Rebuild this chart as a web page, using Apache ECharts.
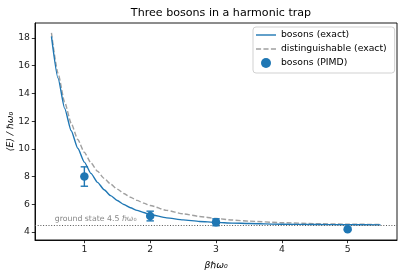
<!DOCTYPE html>
<html>
<head>
<meta charset="utf-8">
<script src="https://cdn.jsdelivr.net/npm/echarts@6/dist/echarts.min.js"></script>
<style>html,body{margin:0;padding:0;background:#fff}#c{width:400px;height:280px}</style>
</head>
<body>
<div id="c"></div>
<script>
// beta * hbar * omega0 sample positions for the exact curves
var betaGrid = [0.5,0.6,0.7,0.8,0.9,1.0,1.1,1.2,1.3,1.4,1.5,1.6,1.7,1.8,1.9,2.0,2.25,2.5,2.75,3.0,3.25,3.5,4.0,4.5,5.0,5.5];
// <E>/hbar omega0, bosons (exact)
var bosonExact = [18.12,15.10,12.93,11.30,10.04,9.04,8.23,7.58,7.05,6.62,6.27,5.98,5.75,5.56,5.40,5.26,5.02,4.87,4.76,4.69,4.64,4.61,4.56,4.54,4.52,4.51];
// <E>/hbar omega0, distinguishable (exact)
var distExact = [18.37,15.45,13.38,11.84,10.67,9.74,8.99,8.38,7.87,7.45,7.09,6.78,6.51,6.28,6.08,5.91,5.56,5.31,5.12,4.97,4.86,4.78,4.67,4.60,4.56,4.54];
// PIMD points
var pimdBeta = [1, 2, 3, 5];
var pimdE = [8.0, 5.15, 4.7, 4.2];
var pimdErr = [0.7, 0.35, 0.25, 0.1];
var groundState = 4.5;
var xTicks = [1, 2, 3, 4, 5];
var yTicks = [4, 6, 8, 10, 12, 14, 16, 18];

var FONT = 'DejaVu Sans';
var BLUE = '#1f77b4';

function zip(a, b) { return a.map(function (v, i) { return [v, b[i]]; }); }

var chart = echarts.init(document.getElementById('c'), null, {renderer: 'canvas'});
chart.setOption({
  animation: false,
  backgroundColor: '#fff',
  title: {
    text: 'Three bosons in a harmonic trap',
    left: 216, top: 3, textAlign: 'center',
    textStyle: {fontFamily: FONT, fontSize: 11.1, fontWeight: 'normal', color: '#000'}
  },
  grid: {left: 35, right: 3, top: 23, bottom: 40, containLabel: false, outerBoundsMode: 'none',
         show: true, borderColor: '#000', borderWidth: 0.9, backgroundColor: 'transparent'},
  legend: {
    orient: 'vertical', left: 253, top: 27,
    padding: [3, 8, 5, 3],
    backgroundColor: 'rgba(255,255,255,0.8)', borderColor: '#cccccc', borderWidth: 0.9, borderRadius: 3,
    itemWidth: 20, itemHeight: 10, itemGap: 4,
    textStyle: {fontFamily: FONT, fontSize: 9.26, color: '#000', lineHeight: 10},
    data: [
      {name: 'bosons (exact)', icon: 'path://M0,0H20V1.4H0Z'},
      {name: 'distinguishable (exact)', icon: 'path://M0,0H5V1.4H0ZM7.3,0H12.3V1.4H7.3ZM14.6,0H19.6V1.4H14.6Z'},
      {name: 'bosons (PIMD)', icon: 'circle'}
    ]
  },
  xAxis: {
    type: 'value', min: 0.25, max: 5.75,
    name: 'βℏω₀', nameLocation: 'middle', nameGap: 21,
    nameTextStyle: {fontFamily: FONT, fontSize: 9.26, fontStyle: 'italic', color: '#000'},
    axisLine: {show: true, onZero: false, lineStyle: {color: '#000', width: 0.9}},
    axisTick: {show: true, length: 3.2, customValues: xTicks, lineStyle: {color: '#000', width: 0.8}},
    axisLabel: {customValues: xTicks, margin: 5, fontFamily: FONT, fontSize: 9.26, color: '#222'},
    splitLine: {show: false}
  },
  yAxis: {
    type: 'value', min: 3.42, max: 19.08,
    name: '⟨E⟩ / ℏω₀', nameLocation: 'middle', nameGap: 20, nameRotate: 90, nameMoveOverlap: false,
    nameTextStyle: {fontFamily: FONT, fontSize: 9.26, fontStyle: 'italic', color: '#000'},
    axisLine: {show: true, onZero: false, lineStyle: {color: '#000', width: 0.9}},
    axisTick: {show: true, length: 3.2, customValues: yTicks, lineStyle: {color: '#000', width: 0.8}},
    axisLabel: {customValues: yTicks, margin: 5, fontFamily: FONT, fontSize: 9.26, color: '#222'},
    splitLine: {show: false}
  },
  series: [
    {
      name: 'distinguishable (exact)', type: 'line', data: zip(betaGrid, distExact),
      symbol: 'none', showSymbol: false, smooth: 0.2, smoothMonotone: 'x', z: 2,
      lineStyle: {color: '#a0a0a0', width: 1.4, type: [5, 2.3]},
      itemStyle: {color: '#a0a0a0'}
    },
    {
      name: 'bosons (exact)', type: 'line', data: zip(betaGrid, bosonExact),
      symbol: 'none', showSymbol: false, smooth: 0.2, smoothMonotone: 'x', z: 3,
      lineStyle: {color: BLUE, width: 1.4},
      itemStyle: {color: BLUE}
    },
    {
      name: 'ground', type: 'scatter', data: [[0.55, groundState]], symbolSize: 0, z: 1,
      silent: true,
      label: {
        show: true, position: 'right', distance: 0, offset: [0, -6],
        formatter: 'ground state 4.5 ℏω₀',
        fontFamily: FONT, fontSize: 7.8, color: '#666'
      },
      markLine: {
        silent: true, symbol: 'none', animation: false,
        label: {show: false},
        lineStyle: {color: '#555', type: [1, 1.7], width: 1},
        data: [{yAxis: groundState}]
      }
    },
    {
      name: 'errorbars', type: 'custom', z: 4,
      data: pimdBeta.map(function (b, i) { return [b, pimdE[i], pimdErr[i]]; }),
      renderItem: function (params, api) {
        var x = api.value(0), y = api.value(1), e = api.value(2);
        var t = api.coord([x, y + e]), b = api.coord([x, y - e]);
        var cw = 3.7;
        var st = {stroke: BLUE, lineWidth: 1.4};
        return {type: 'group', children: [
          {type: 'line', shape: {x1: t[0], y1: t[1], x2: b[0], y2: b[1]}, style: st},
          {type: 'line', shape: {x1: t[0] - cw, y1: t[1], x2: t[0] + cw, y2: t[1]}, style: st},
          {type: 'line', shape: {x1: b[0] - cw, y1: b[1], x2: b[0] + cw, y2: b[1]}, style: st}
        ]};
      }
    },
    {
      name: 'bosons (PIMD)', type: 'scatter', data: zip(pimdBeta, pimdE), z: 5,
      symbol: 'circle', symbolSize: 8.5, itemStyle: {color: BLUE, opacity: 1}
    }
  ]
});
</script>
</body>
</html>
